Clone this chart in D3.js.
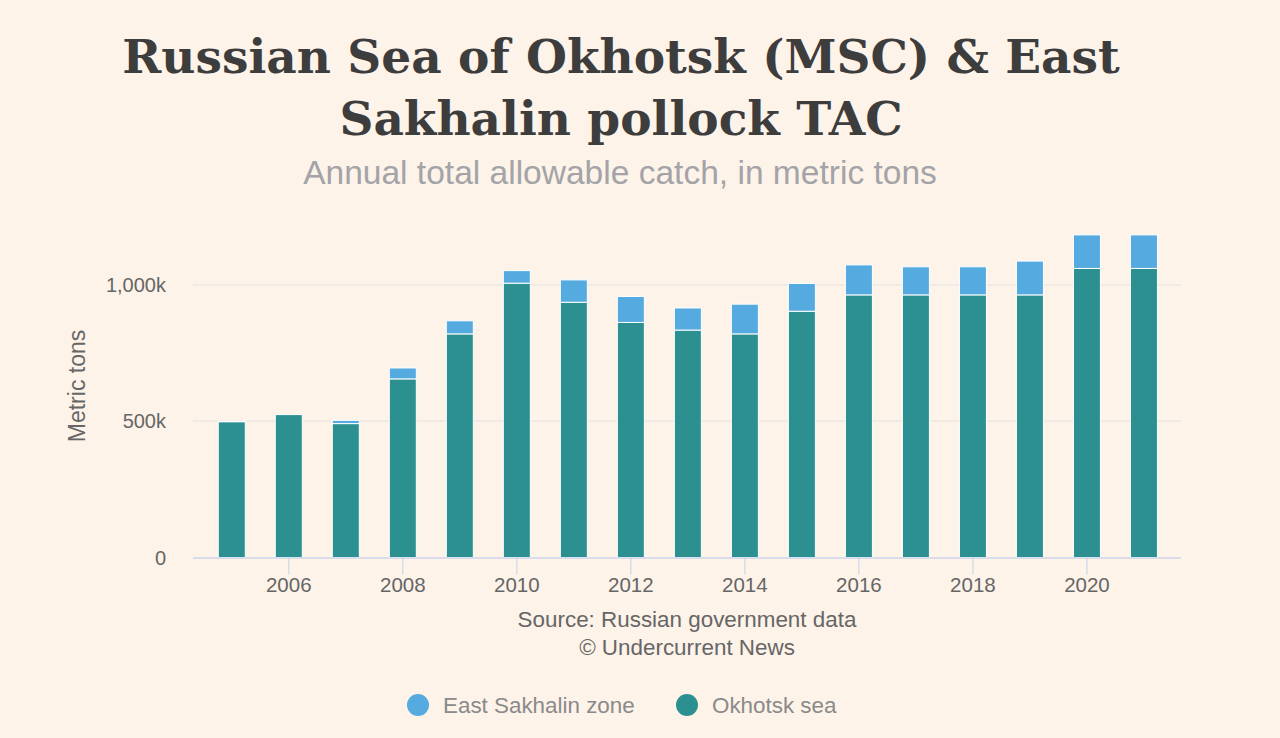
<!DOCTYPE html>
<html><head><meta charset="utf-8">
<script src="https://cdn.jsdelivr.net/npm/d3@7"></script>
<style>
html,body{margin:0;padding:0;background:#fdf3e9;}
svg{display:block;}
</style></head>
<body>
<svg id="chart" width="1280" height="738"></svg>
<script>
const years = [2005,2006,2007,2008,2009,2010,2011,2012,2013,2014,2015,2016,2017,2018,2019,2020,2021];
const okhotskSea = [498000,524000,491000,655000,820000,1006000,936000,862000,834000,820000,903000,963000,963000,963000,963000,1060000,1060000];
const eastSakhalin = [2000,0,12000,40000,48000,46000,82000,95000,81000,109000,102000,110000,103000,103000,124000,123000,123000];
const yTicks = [0,500000,1000000];
const xTicks = [2006,2008,2010,2012,2014,2016,2018,2020];
const seriesNames = ["East Sakhalin zone","Okhotsk sea"];
const seriesColors = ["#55aadf","#2b908f"];

(function(){
const svg = d3.select("#chart");
const SANS = "'Liberation Sans', Arial, sans-serif";
svg.append("rect").attr("width",1280).attr("height",738).attr("fill","#fdf3e9");

const plotLeft=193, plotRight=1181, plotBottom=557.5;
const x = d3.scaleLinear().domain([2004.32,2021.65]).range([plotLeft,plotRight]);
const y = d3.scaleLinear().domain([0,1200000]).range([plotBottom, plotBottom - 1.2*272.7]);

function fitText(sel, target){
  const w = sel.node().getComputedTextLength();
  const fs = parseFloat(sel.attr("font-size"));
  sel.attr("font-size", fs*target/w);
}
const t1 = svg.append("text").attr("x",621).attr("y",73).attr("text-anchor","middle")
  .attr("font-family","Georgia, 'DejaVu Serif', serif").attr("font-weight","bold")
  .attr("font-size",50).attr("fill","#3d3d3d").text("Russian Sea of Okhotsk (MSC) & East");
fitText(t1, 998);
svg.append("text").attr("x",621).attr("y",135).attr("text-anchor","middle")
  .attr("font-family","Georgia, 'DejaVu Serif', serif").attr("font-weight","bold")
  .attr("font-size",t1.attr("font-size")).attr("fill","#3d3d3d").text("Sakhalin pollock TAC");
const st = svg.append("text").attr("x",620).attr("y",184).attr("text-anchor","middle")
  .attr("font-family",SANS)
  .attr("font-size",30).attr("fill","#a3a3a8").text("Annual total allowable catch, in metric tons");
fitText(st, 634);

svg.append("g").selectAll("line").data(yTicks.filter(d=>d>0)).join("line")
  .attr("x1",plotLeft).attr("x2",plotRight).attr("y1",d=>y(d)).attr("y2",d=>y(d))
  .attr("stroke","#e8e6e3").attr("stroke-width",1.2);

svg.append("g").selectAll("text").data(yTicks).join("text")
  .attr("x",166).attr("y",d=>y(d)+7).attr("text-anchor","end")
  .attr("font-family",SANS).attr("font-size",20)
  .attr("fill","#666").text(d=> d===0 ? "0" : d3.format(",")(d/1000)+"k");

svg.append("text").attr("transform","translate(85,386) rotate(-90)").attr("text-anchor","middle")
  .attr("font-family",SANS).attr("font-size",23)
  .attr("fill","#666").text("Metric tons");

const bw = 27;
const g = svg.append("g");
years.forEach((yr,i)=>{
  const cx = x(yr);
  g.append("rect").attr("x",cx-bw/2).attr("width",bw)
    .attr("y",y(okhotskSea[i])).attr("height",y(0)-y(okhotskSea[i]))
    .attr("fill",seriesColors[1]).attr("stroke","#fff").attr("stroke-width",1);
  if(eastSakhalin[i]>0){
    g.append("rect").attr("x",cx-bw/2).attr("width",bw)
      .attr("y",y(okhotskSea[i]+eastSakhalin[i])).attr("height",y(okhotskSea[i])-y(okhotskSea[i]+eastSakhalin[i]))
      .attr("fill",seriesColors[0]).attr("stroke","#fff").attr("stroke-width",1);
  }
});

svg.append("line").attr("x1",plotLeft).attr("x2",plotRight).attr("y1",plotBottom+0.5).attr("y2",plotBottom+0.5)
  .attr("stroke","#ccd6eb").attr("stroke-width",1.5);
svg.append("g").selectAll("line").data(xTicks).join("line")
  .attr("x1",d=>x(d)).attr("x2",d=>x(d)).attr("y1",plotBottom).attr("y2",plotBottom+17)
  .attr("stroke","#ccd6eb").attr("stroke-width",1.2);
svg.append("g").selectAll("text").data(xTicks).join("text")
  .attr("x",d=>x(d)).attr("y",592).attr("text-anchor","middle")
  .attr("font-family",SANS).attr("font-size",20.5)
  .attr("fill","#666").text(d=>d);

const s1 = svg.append("text").attr("x",687).attr("y",627).attr("text-anchor","middle")
  .attr("font-family",SANS).attr("font-size",19)
  .attr("fill","#666").text("Source: Russian government data");
fitText(s1, 339);
svg.append("text").attr("x",687).attr("y",655).attr("text-anchor","middle")
  .attr("font-family",SANS).attr("font-size",s1.attr("font-size"))
  .attr("fill","#666").text("© Undercurrent News");

const legX = [418,687];
const lg = svg.append("g");
seriesNames.forEach((n,i)=>{
  lg.append("circle").attr("cx",legX[i]).attr("cy",705).attr("r",11).attr("fill",seriesColors[i]);
  lg.append("text").attr("x",legX[i]+25).attr("y",713).attr("font-family",SANS)
    .attr("font-size",22.4).attr("fill","#8a8a8a").text(n);
});
})();
</script>
</body></html>
